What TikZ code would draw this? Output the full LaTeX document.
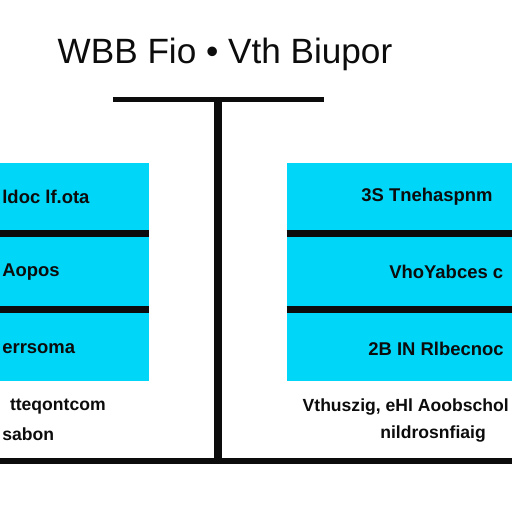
\documentclass[tikz,border=0pt]{standalone}
\usepackage{fontspec}
\setmainfont{Liberation Sans}
\usetikzlibrary{positioning}
\definecolor{WbCyan}{RGB}{0,214,248}
\definecolor{WbInk}{RGB}{12,12,12}
\tikzset{
  wb/cell/.style={
    fill=WbCyan,
    draw=none,
    inner sep=0pt
  },
  wb/celltext/.style={font=\bfseries\fontsize{10.5}{12}\selectfont, text=WbInk, inner sep=0pt},
  wb/note/.style={font=\bfseries\fontsize{10}{12}\selectfont, text=WbInk, inner sep=0pt},
  wb/title/.style={font=\fontsize{20}{23}\selectfont, text=WbInk, inner sep=0pt},
  wb/rule/.style={draw=WbInk, line width=4pt},
  wb/bar/.style={draw=WbInk, line width=3pt}
}

\begin{document}
\begin{tikzpicture}[x=0.02cm,y=-0.02cm]
  \useasboundingbox[fill=white] (0,0) rectangle (512,512);

  % title
  \node[wb/title] (title) at (225,54) {WBB Fio • Vth Biupor};

  % left stack
  \node[wb/cell,minimum width=2.98cm,minimum height=1.40cm] (l1) at (74.5,198) {};
  \node[wb/cell,minimum width=2.98cm,minimum height=1.52cm] (l2) at (74.5,271) {};
  \node[wb/cell,minimum width=2.98cm,minimum height=1.44cm] (l3) at (74.5,345) {};
  \draw[wb/rule] (l1.south west) -- (l1.south east);
  \draw[wb/rule] (l2.south west) -- (l2.south east);

  % right stack
  \node[wb/cell,minimum width=4.50cm,minimum height=1.40cm] (r1) at (399.5,198) {};
  \node[wb/cell,minimum width=4.50cm,minimum height=1.52cm] (r2) at (399.5,271) {};
  \node[wb/cell,minimum width=4.50cm,minimum height=1.44cm] (r3) at (399.5,345) {};
  \draw[wb/rule] (r1.south west) -- (r1.south east);
  \draw[wb/rule] (r2.south west) -- (r2.south east);

  % cell texts
  \node[wb/celltext,anchor=west] (lt1) at (2,197) {ldoc lf.ota};
  \node[wb/celltext,anchor=west] (lt2) at (2,272) {Aopos};
  \node[wb/celltext,anchor=west] (lt3) at (2,349) {errsoma};
  \node[wb/celltext,anchor=west] (rt1) at (361,197) {3S Tnehaspnm};
  \node[wb/celltext,anchor=west] (rt2) at (389,272) {VhoYabces c};
  \node[wb/celltext,anchor=west] (rt3) at (368,349) {2B IN Rlbecnoc};

  % notes under the stacks
  \node[wb/note,anchor=east] (ln1) at (106,407) {tteqontcom};
  \node[wb/note,anchor=west] (ln2) at (2,434) {sabon};
  \node[wb/note,anchor=east] (rn1) at (509,407) {Vthuszig, eHl Aoobschol};
  \node[wb/note,anchor=west] (rn2) at (380,434) {nildrosnfiaig};

  % the T frame
  \coordinate (barL) at (113,99.5);
  \coordinate (barR) at (324,99.5);
  \coordinate (stemTop) at (218,99.5);
  \coordinate (stemBot) at (218,461);
  \coordinate (baseL) at (0,461);
  \coordinate (baseR) at (512,461);
  \draw[wb/bar] (barL) -- (barR);
  \draw[wb/rule] (stemTop) -- (stemBot);
  \draw[wb/bar] (baseL) -- (baseR);
\end{tikzpicture}
\end{document}
